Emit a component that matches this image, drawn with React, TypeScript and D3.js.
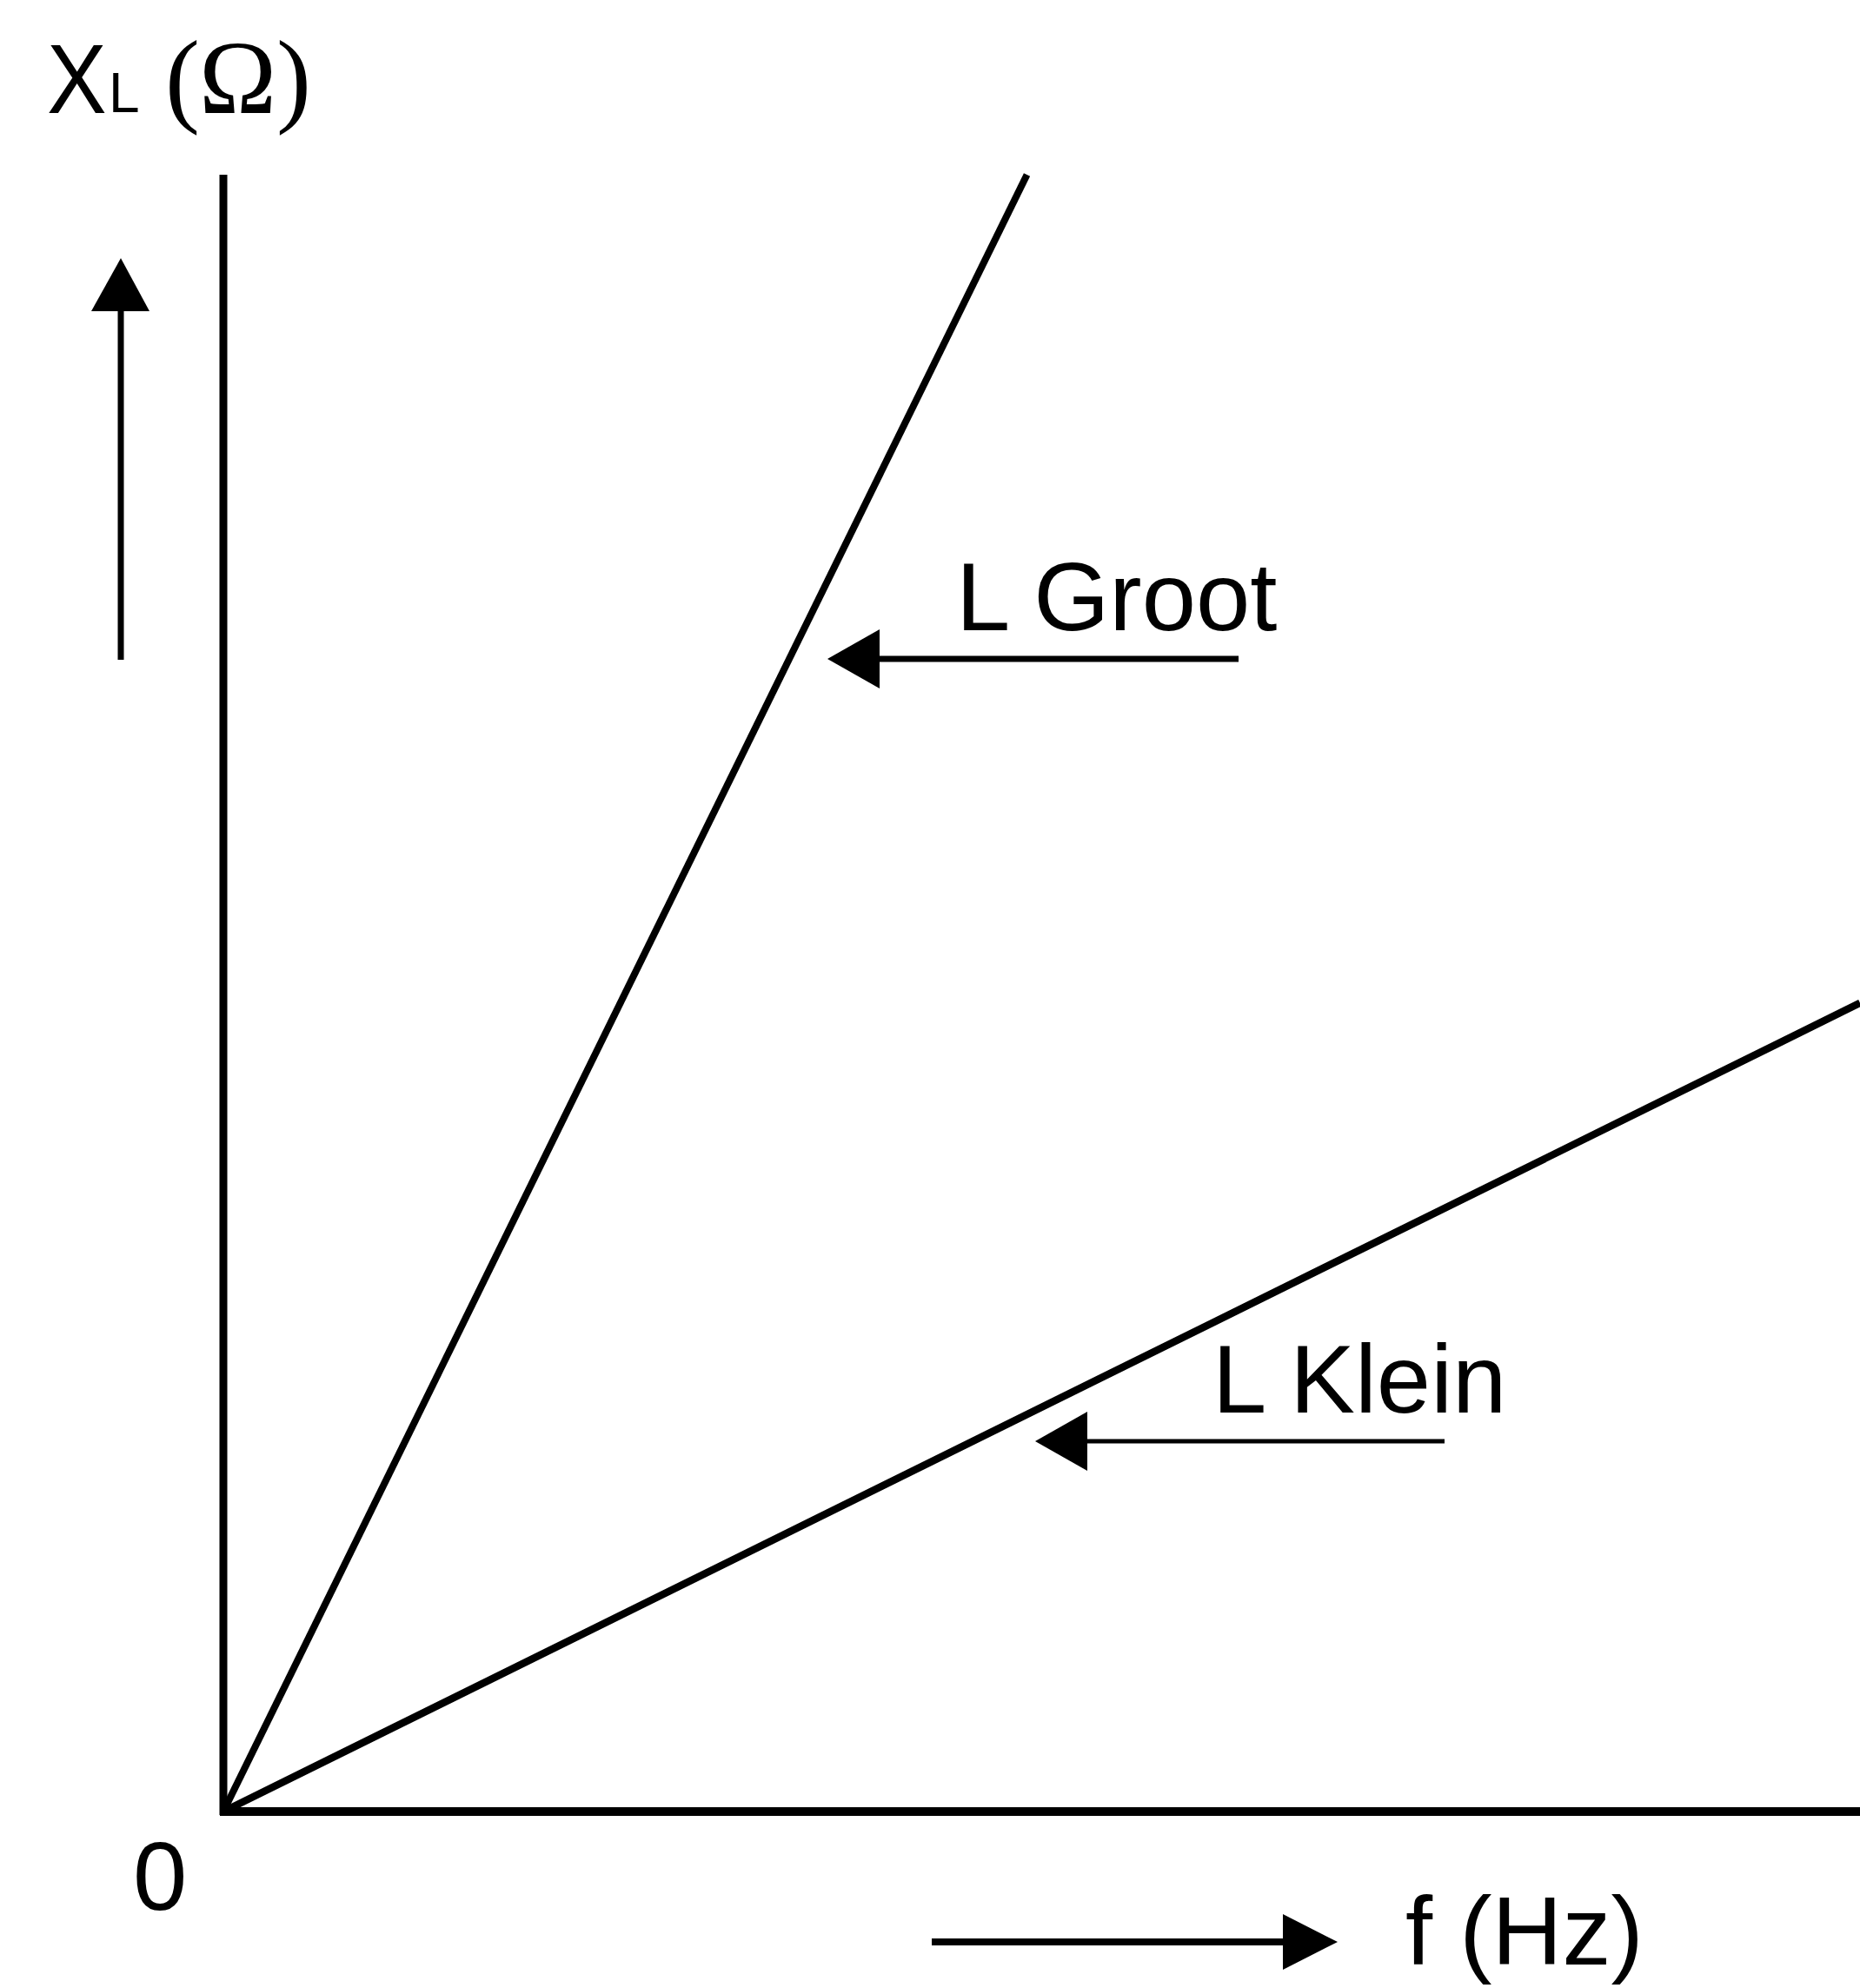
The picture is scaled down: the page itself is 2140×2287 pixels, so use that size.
import React from "react";
import * as d3 from "d3";

// Data (arbitrary units: frequency f vs reactance XL)
const seriesNames = ["L Groot", "L Klein"];
const grootF = [0, 4.91];
const grootXL = [0, 10];
const kleinF = [0, 10];
const kleinXL = [0, 4.94];
const originLabel = ["0"];

const W = 2140;
const H = 2287;

export default function App() {
  const x = d3.scaleLinear().domain([0, 10]).range([257, 2140]);
  const y = d3.scaleLinear().domain([0, 10]).range([2084, 201]);
  const line = d3
    .line<[number, number]>()
    .x((d) => x(d[0]))
    .y((d) => y(d[1]));

  const groot: [number, number][] = grootF.map((f, i) => [f, grootXL[i]]);
  const klein: [number, number][] = kleinF.map((f, i) => [f, kleinXL[i]]);

  const sans = "'Liberation Sans', Arial, Helvetica, sans-serif";
  const serif = "'Liberation Serif', 'Times New Roman', serif";

  const arrowH = (tipX: number, tailX: number, yy: number, len: number, half: number, sw: number, key: string) => {
    const dir = tailX > tipX ? 1 : -1;
    const baseX = tipX + dir * len;
    return (
      <g key={key}>
        <line x1={tailX} y1={yy} x2={baseX} y2={yy} stroke="#000" strokeWidth={sw} />
        <path d={`M${tipX},${yy} L${baseX},${yy - half} L${baseX},${yy + half} Z`} fill="#000" />
      </g>
    );
  };

  return (
    <svg
      width={W}
      height={H}
      style={{ position: "absolute", left: 0, top: 0, background: "#fff" }}
      viewBox={`0 0 ${W} ${H}`}
    >
      <rect x={0} y={0} width={W} height={H} fill="#fff" />
      {/* axes */}
      <line x1={x(0)} y1={y(10)} x2={x(0)} y2={y(0) + 4} stroke="#000" strokeWidth={9} />
      <line x1={x(0) - 4} y1={y(0)} x2={x(10)} y2={y(0)} stroke="#000" strokeWidth={10} />

      {/* series */}
      <path d={line(groot) || ""} stroke="#000" strokeWidth={8} fill="none" />
      <path d={line(klein) || ""} stroke="#000" strokeWidth={8.5} fill="none" />

      {/* y-axis title */}
      <text transform="translate(54,130) scale(1,1.1)" fontFamily={sans} fontSize={103} fill="#000">X</text>
      <text x={125} y={129} fontFamily={sans} fontSize={64} fill="#000">L</text>
      <text x={190} y={130} fontFamily={serif} fontSize={120} fill="#000">(</text>
      <text x={229} y={130} fontFamily={serif} fontSize={120} fill="#000">Ω</text>
      <text x={318} y={130} fontFamily={serif} fontSize={120} fill="#000">)</text>

      {/* up arrow */}
      <line x1={139} y1={759} x2={139} y2={356} stroke="#000" strokeWidth={7} />
      <path d="M139,297 L105,358 L172,358 Z" fill="#000" />

      {/* series labels with arrows */}
      <text x={1100} y={725} fontFamily={sans} fontSize={112} fill="#000">{seriesNames[0]}</text>
      {arrowH(952, 1425, 758, 60, 34, 7, "ga")}
      <text x={1395} y={1625} fontFamily={sans} fontSize={112} fill="#000">{seriesNames[1]}</text>
      {arrowH(1191, 1662, 1658, 60, 34, 5, "ka")}

      {/* origin */}
      <text x={153} y={2197} fontFamily={sans} fontSize={112} fill="#000">{originLabel[0]}</text>

      {/* x-axis title and arrow */}
      {arrowH(1539, 1072, 2234, 63, 32, 8, "xa")}
      <text x={1617} y={2260} fontFamily={sans} fontSize={112} fill="#000">f (Hz)</text>
    </svg>
  );
}
